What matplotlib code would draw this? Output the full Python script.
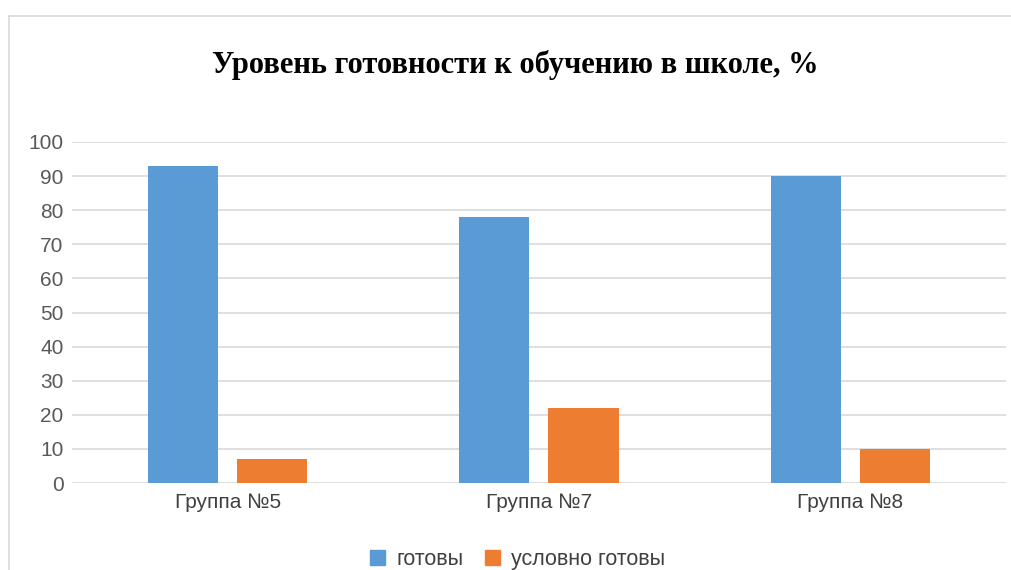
import numpy as np
import matplotlib.pyplot as plt
from matplotlib.lines import Line2D
from matplotlib.patches import Patch

groups = ['Группа №5', 'Группа №7', 'Группа №8']
ready = [93, 78, 90]
cond_ready = [7, 22, 10]
series_names = ['готовы', 'условно готовы']

blue = '#5B9BD5'
orange = '#ED7D31'
grid_c = '#D9D9D9'

plt.rcParams['font.family'] = ['Liberation Sans', 'DejaVu Sans']

fig = plt.figure(figsize=(10.11, 5.70), dpi=100)
ax = fig.add_axes([0.0712, 0.1526, 0.9238, 0.5983])

x = np.arange(len(groups))
width = 0.225
off = 0.143
ax.bar(x - off, ready, width, color=blue, zorder=3)
ax.bar(x + off, cond_ready, width, color=orange, zorder=3)

ax.set_xlim(-0.5, len(groups) - 0.5)
ax.set_ylim(0, 100)
ax.set_yticks(np.arange(0, 101, 10))
ax.set_xticks(x, groups)
ax.yaxis.grid(True, color=grid_c, linewidth=1.2, zorder=0)
for s in ax.spines.values():
    s.set_visible(False)
ax.tick_params(axis='both', length=0)
ax.tick_params(axis='y', labelsize=15, labelcolor='#595959', pad=6)
ax.tick_params(axis='x', labelsize=15, labelcolor='#404040', pad=7)

fig.text(0.51, 0.872, 'Уровень готовности к обучению в школе, %',
         family='Liberation Serif', fontweight='bold', fontsize=22,
         ha='center', va='baseline')

# chart border (left and top edges visible)
fig.add_artist(Line2D([0.009, 0.009], [0.0, 0.972], color=grid_c, lw=1.2))
fig.add_artist(Line2D([0.009, 1.0], [0.972, 0.972], color=grid_c, lw=1.2))

handles = [Patch(color=blue), Patch(color=orange)]
fig.legend(handles, series_names, loc='center', bbox_to_anchor=(0.512, 0.019),
           ncol=2, frameon=False, fontsize=15.5, handlelength=0.7, handleheight=0.7,
           handletextpad=0.5, columnspacing=1.0, labelcolor='#404040')

fig.savefig('out.png', dpi=100)
